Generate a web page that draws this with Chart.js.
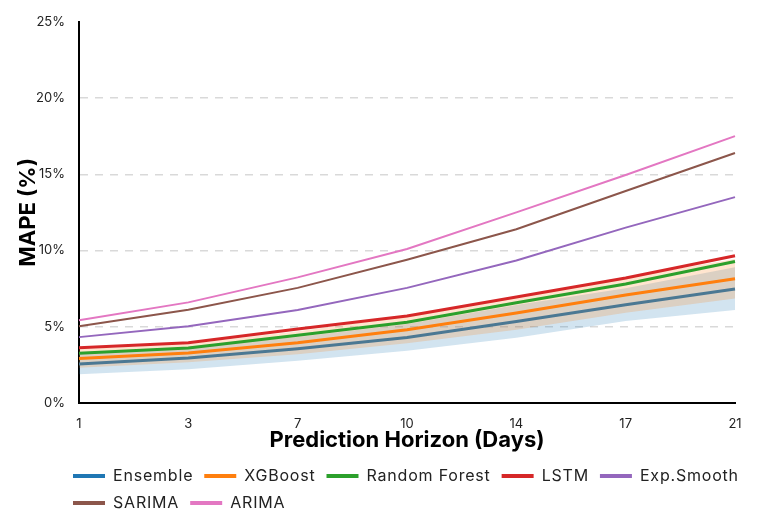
<!DOCTYPE html>
<html>
<head>
<meta charset="utf-8">
<script src="https://cdn.jsdelivr.net/npm/chart.js@4.4.1/dist/chart.umd.min.js"></script>
<style>
  html, body { margin: 0; padding: 0; background: #fff; }
  #wrap { width: 782px; height: 511px; position: relative; }
</style>
</head>
<body>
<div id="wrap"><canvas id="c"></canvas></div>
<script>
// ---- data ----
const horizons = ['1', '3', '7', '10', '14', '17', '21'];

const ensemble     = [2.55, 2.95, 3.55, 4.30, 5.35, 6.45, 7.48];
const ensembleLow  = [1.88, 2.22, 2.77, 3.42, 4.28, 5.38, 6.10];
const ensembleHigh = [3.22, 3.68, 4.33, 5.18, 6.42, 7.52, 8.90];

const xgboost      = [2.92, 3.28, 3.95, 4.80, 5.90, 7.08, 8.15];
const xgboostLow   = [2.31, 2.68, 3.19, 3.92, 4.80, 5.92, 6.86];
const xgboostHigh  = [3.53, 3.88, 4.71, 5.68, 7.00, 8.24, 9.44];

const randomForest = [3.27, 3.60, 4.45, 5.30, 6.58, 7.80, 9.28];
const lstm         = [3.63, 3.95, 4.85, 5.70, 6.95, 8.20, 9.66];
const expSmooth    = [4.32, 5.04, 6.10, 7.55, 9.35, 11.50, 13.50];
const sarima       = [5.04, 6.12, 7.55, 9.40, 11.40, 13.90, 16.40];
const arima        = [5.42, 6.60, 8.24, 10.10, 12.50, 14.95, 17.50];

const yTicks = [0, 5, 10, 15, 20, 25];

// ---- chart ----
Chart.defaults.font.family = 'Inter, "Noto Sans", sans-serif';
Chart.defaults.color = '#222';

function line(label, data, color, width, order) {
  return {
    label, data, borderColor: color, backgroundColor: color,
    borderWidth: width, pointRadius: 0, pointHoverRadius: 0,
    tension: 0, fill: false, order
  };
}
function band(label, data, fillColor, fill, order) {
  return {
    label, data, isBand: true, borderWidth: 0, borderColor: 'rgba(0,0,0,0)',
    backgroundColor: fillColor, pointRadius: 0, pointHoverRadius: 0,
    tension: 0, fill, order
  };
}

const datasets = [
  line('Ensemble', ensemble, '#1f77b4', 3, 9),
  line('XGBoost', xgboost, '#ff7f0e', 3, 7),
  line('Random Forest', randomForest, '#2ca02c', 3, 6),
  line('LSTM', lstm, '#d62728', 3, 5),
  line('Exp.Smooth', expSmooth, '#9467bd', 2, 4),
  line('SARIMA', sarima, '#8c564b', 2, 3),
  line('ARIMA', arima, '#e377c2', 2, 2),
  band('Ensemble low', ensembleLow, 'rgba(31,119,180,0.2)', false, 10),
  band('Ensemble high', ensembleHigh, 'rgba(31,119,180,0.2)', '-1', 10),
  band('XGBoost low', xgboostLow, 'rgba(255,127,14,0.2)', false, 8),
  band('XGBoost high', xgboostHigh, 'rgba(255,127,14,0.2)', '-1', 8)
];

// place the legend block under the plot and give its text a little tracking
const legendPlace = {
  id: 'legendPlace',
  afterLayout(chart) {
    const lg = chart.legend;
    if (!lg) return;
    lg.left = 62;
    lg.right = chart.width;
    lg.top += 10;
    lg.bottom += 10;
    if (!lg._tracked) {
      const orig = lg.draw;
      lg.draw = function (...args) {
        const ctx = this.ctx;
        ctx.save();
        if ('letterSpacing' in ctx) ctx.letterSpacing = '0.8px';
        orig.apply(this, args);
        ctx.restore();
      };
      lg._tracked = true;
    }
  }
};

new Chart(document.getElementById('c'), {
  type: 'line',
  data: { labels: horizons, datasets },
  plugins: [legendPlace],
  options: {
    responsive: true,
    maintainAspectRatio: false,
    animation: false,
    layout: { padding: { top: 21, right: 47, bottom: 0, left: 0 } },
    interaction: { mode: 'nearest', intersect: false },
    plugins: {
      tooltip: { enabled: false },
      legend: {
        position: 'bottom',
        align: 'start',
        labels: {
          boxWidth: 32,
          boxHeight: 4,
          padding: 11,
          font: { size: 16 },
          color: '#222',
          sort: (a, b) => a.datasetIndex - b.datasetIndex,
          generateLabels(chart) {
            const items = Chart.defaults.plugins.legend.labels.generateLabels(chart);
            return items
              .filter(it => !chart.data.datasets[it.datasetIndex].isBand)
              .map(it => Object.assign(it, { fillStyle: it.strokeStyle, lineWidth: 0 }));
          }
        }
      }
    },
    scales: {
      x: {
        type: 'category',
        offset: false,
        grid: { display: false, drawTicks: false },
        border: { display: true, color: '#000', width: 2 },
        ticks: { padding: 13, font: { size: 13 }, color: '#222', maxRotation: 0 },
        title: {
          display: true, text: 'Prediction Horizon (Days)',
          font: { size: 22, weight: 'bold' }, color: '#000',
          padding: { top: 0, bottom: -7 }
        },
        afterFit(scale) { scale.height = 44; }
      },
      y: {
        min: 0, max: 25,
        afterBuildTicks(scale) { scale.ticks = yTicks.map(v => ({ value: v })); },
        grid: {
          drawTicks: false,
          color: ctx => (ctx.tick && (ctx.tick.value === 0 || ctx.tick.value === 25)) ? 'rgba(0,0,0,0)' : '#d9d9d9',
          lineWidth: 1.5
        },
        border: { display: true, color: '#000', width: 2, dash: [8, 7] },
        ticks: { padding: 14, font: { size: 13 }, color: '#222', callback: v => v + '%' },
        title: {
          display: true, text: 'MAPE (%)',
          font: { size: 22, weight: 'bold' }, color: '#000',
          padding: { top: 15, bottom: 0 }
        },
        afterFit(scale) { scale.width = 79; }
      }
    }
  }
});
</script>
</body>
</html>
